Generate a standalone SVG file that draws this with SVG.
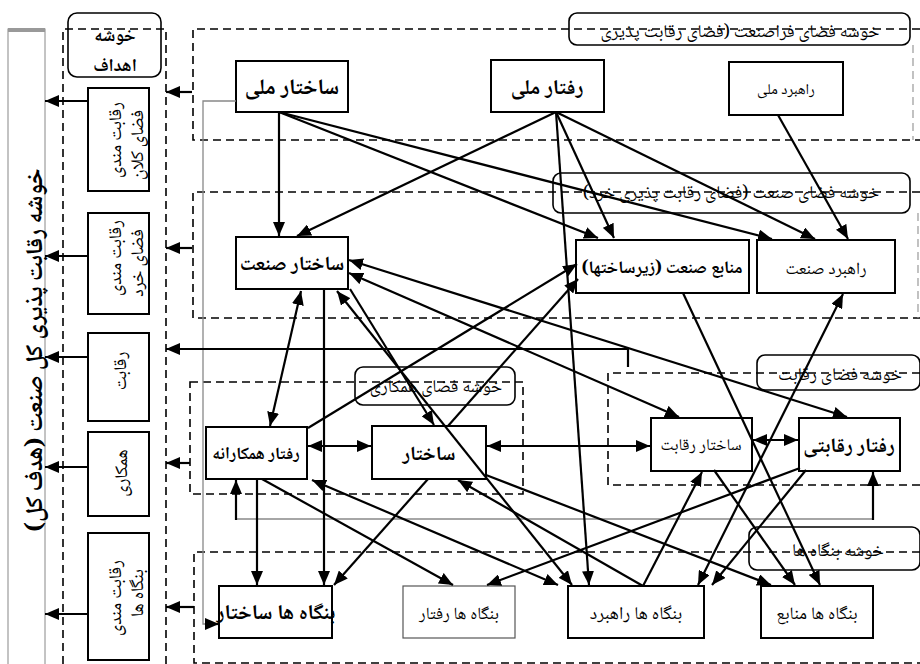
<svg xmlns="http://www.w3.org/2000/svg" width="920" height="664" viewBox="0 0 920 664">
<style>
text{font-family:"Noto Naskh Arabic","Noto Sans Arabic","DejaVu Sans",sans-serif;fill:#000}
.b{font-weight:bold}
.node{fill:#fff;stroke:#000;stroke-width:2}
.thin{fill:#fff;stroke:#555;stroke-width:1.2}
.dash{fill:none;stroke:#000;stroke-width:1.6;stroke-dasharray:8 5}
.gdash{fill:none;stroke:#999;stroke-width:1.2;stroke-dasharray:8 5}
.lbl{fill:none;stroke:#000;stroke-width:1.6}
.c{fill:none;stroke:#000;stroke-width:2.2;marker-end:url(#ah)}
.d{fill:none;stroke:#000;stroke-width:2.2;marker-end:url(#ah);marker-start:url(#ah)}
.g{fill:none;stroke:#888;stroke-width:1.3}
.gl{font-size:18px}
.cl{font-size:18px}
</style>
<defs>
<marker id="ah" viewBox="0 0 14 12" refX="14" refY="6" markerWidth="14" markerHeight="12" markerUnits="userSpaceOnUse" orient="auto-start-reverse">
<path d="M0,0 L14,6 L0,12 z" fill="#000"/>
</marker>
</defs>
<rect width="920" height="664" fill="#fff"/>

<!-- overall goal -->
<g id="overall">
<rect x="8" y="29" width="37" height="640" fill="#fff" stroke="#888" stroke-width="1"/>
<rect x="8" y="28" width="37" height="4" fill="#999"/>
<text class="b" font-size="24" text-anchor="middle" transform="translate(42,350) rotate(-90)">خوشه رقابت پذیری کل صنعت (هدف کل)</text>
</g>

<!-- clusters -->
<g id="cluster-goals">
<path class="dash" d="M63,664 V29 H166 V664"/>
<rect class="lbl" x="68" y="13" width="93" height="64" rx="9"/>
<text class="b" font-size="18" text-anchor="middle" x="115" y="41">خوشه</text>
<text class="b" font-size="18" text-anchor="middle" x="115" y="71">اهداف</text>
</g>
<g id="cluster-macro">
<path class="dash" d="M920,29 H193 V140 H920"/>
<path class="gdash" d="M913,45 V140"/>
<rect class="lbl" x="569" y="13" width="341" height="32" rx="8"/>
<text class="cl" text-anchor="middle" x="740" y="37">خوشه فضای فراصنعت (فضای رقابت پذیری</text>
</g>
<g id="cluster-industry">
<path class="dash" d="M920,192 H193 V318 H920"/>
<path class="gdash" d="M918,213 V318"/>
<rect class="lbl" x="553" y="173" width="357" height="40" rx="8"/>
<text class="cl" text-anchor="middle" x="731" y="198">خوشه فضای صنعت (فضای رقابت پذیری خرد)</text>
</g>
<g id="cluster-coop">
<rect class="dash" x="190" y="382" width="333" height="112"/>
<rect class="lbl" x="355" y="367" width="160" height="38" rx="8"/>
<text class="cl" text-anchor="middle" x="436" y="392">خوشه فضای همکاری</text>
</g>
<g id="cluster-comp">
<path class="dash" d="M920,373 H608 V485 H920"/>
<rect class="lbl" x="757" y="355" width="163" height="35" rx="8"/>
<text class="cl" text-anchor="middle" x="840" y="380">خوشه فضای رقابت</text>
</g>
<g id="cluster-firms">
<path class="dash" d="M920,552 H194 V663 H920"/>
<rect class="lbl" x="749" y="527" width="171" height="43" rx="8"/>
<text class="cl" text-anchor="middle" x="838" y="556">خوشه بنگاه ها</text>
</g>

<!-- goal boxes -->
<g id="goal-macro">
<rect class="node" x="88" y="88" width="61" height="103"/>
<text class="gl" text-anchor="middle" transform="translate(121,140) rotate(-90)">رقابت مندی</text>
<text class="gl" text-anchor="middle" transform="translate(143,145) rotate(-90)">فضای کلان</text>
</g>
<g id="goal-micro">
<rect class="node" x="88" y="213" width="61" height="101"/>
<text class="gl" text-anchor="middle" transform="translate(121,258) rotate(-90)">رقابت مندی</text>
<text class="gl" text-anchor="middle" transform="translate(143,263) rotate(-90)">فضای خرد</text>
</g>
<g id="goal-comp">
<rect class="node" x="88" y="333" width="61" height="88"/>
<text class="gl" text-anchor="middle" transform="translate(126,371) rotate(-90)">رقابت</text>
</g>
<g id="goal-coop">
<rect class="node" x="88" y="432" width="61" height="84"/>
<text class="gl" text-anchor="middle" transform="translate(127,473) rotate(-90)">همکاری</text>
</g>
<g id="goal-firms">
<rect class="node" x="88" y="533" width="61" height="127"/>
<text class="gl" text-anchor="middle" transform="translate(121,598) rotate(-90)">رقابت مندی</text>
<text class="gl" text-anchor="middle" transform="translate(143,593) rotate(-90)">بنگاه ها</text>
</g>

<!-- nodes -->
<g id="national-structure">
<rect class="node" x="236" y="61" width="112" height="51"/>
<text class="b" font-size="22" text-anchor="middle" x="292" y="94">ساختار ملی</text>
</g>
<g id="national-behavior">
<rect class="node" x="491" y="60" width="113" height="52"/>
<text class="b" font-size="21" text-anchor="middle" x="547" y="94">رفتار ملی</text>
</g>
<g id="national-strategy">
<rect class="node" x="729" y="62" width="114" height="53"/>
<text font-size="15" text-anchor="middle" x="786" y="94">راهبرد ملی</text>
</g>
<g id="industry-structure">
<rect class="node" x="236" y="237" width="112" height="52"/>
<text class="b" font-size="20" text-anchor="middle" x="292" y="270">ساختار صنعت</text>
</g>
<g id="industry-resources">
<rect class="node" x="576" y="240" width="173" height="53"/>
<text class="b" font-size="17.5" text-anchor="middle" x="662" y="273">منابع صنعت (زیرساختها)</text>
</g>
<g id="industry-strategy">
<rect class="node" x="757" y="240" width="138" height="53"/>
<text font-size="17" text-anchor="middle" x="826" y="274">راهبرد  صنعت</text>
</g>
<g id="coop-behavior">
<rect class="node" x="206" y="427" width="101" height="52"/>
<text class="b" font-size="17" text-anchor="middle" x="256" y="459">رفتار  همکارانه</text>
</g>
<g id="coop-structure">
<rect class="node" x="372" y="426" width="114" height="53"/>
<text class="b" font-size="20" text-anchor="middle" x="429" y="460">ساختار</text>
</g>
<g id="comp-structure">
<rect class="node" x="651" y="418" width="101" height="53"/>
<text font-size="16.5" text-anchor="middle" x="701" y="450">ساختار  رقابت</text>
</g>
<g id="comp-behavior">
<rect class="node" x="799" y="418" width="101" height="53"/>
<text class="b" font-size="20.5" text-anchor="middle" x="849" y="452">رفتار رقابتی</text>
</g>
<g id="firm-structure">
<rect class="node" x="219" y="586" width="113" height="52"/>
<text class="b" font-size="21" text-anchor="middle" x="276" y="619">بنگاه ها ساختار</text>
</g>
<g id="firm-behavior">
<rect class="thin" x="403" y="586" width="112" height="52"/>
<text font-size="17" text-anchor="middle" x="459" y="619">بنگاه ها رفتار</text>
</g>
<g id="firm-strategy">
<rect class="node" x="568" y="586" width="136" height="52"/>
<text font-size="18" text-anchor="middle" x="636" y="619">بنگاه ها راهبرد</text>
</g>
<g id="firm-resources">
<rect class="node" x="761" y="586" width="112" height="52"/>
<text font-size="17.5" text-anchor="middle" x="817" y="619">بنگاه ها منابع</text>
</g>

<!-- connectors -->
<g id="connectors">
<!-- gray routed lines -->
<path class="g" d="M236,101 H203 V624 H212"/>
<path class="c" d="M210,624 H219"/>
<path class="g" d="M236,519 H873"/>
<path class="c" d="M236,520 V480"/>
<path class="c" d="M873,520 V472"/>

<!-- to goals -->
<path class="c" d="M192,92 H166"/>
<path class="c" d="M192,248 H166"/>
<path class="c" d="M628,367 V349 H166"/>
<path class="c" d="M190,463 H166"/>
<path class="c" d="M194,607 H166"/>
<path class="c" d="M88,101 H45"/>
<path class="c" d="M88,256 H45"/>
<path class="c" d="M88,357 H45"/>
<path class="c" d="M88,467 H45"/>
<path class="c" d="M88,614 H45"/>

<!-- national level -->
<path class="c" d="M279,112 L279,236"/>
<path class="c" d="M279,112 L598,238"/>
<path class="c" d="M279,112 L772,239"/>
<path class="c" d="M556,112 L297,236"/>
<path class="c" d="M556,112 L614,238"/>
<path class="c" d="M556,112 L815,239"/>
<path class="c" d="M556,112 L589,585"/>
<path class="c" d="M778,115 L848,239"/>

<!-- industry level -->
<path class="d" d="M301,291 L270,426"/>
<path class="c" d="M324,289 V585"/>
<path class="c" d="M350,289 L434,425"/>
<path class="d" d="M337,291 L572,585"/>
<path class="d" d="M349,260 L847,417"/>
<path class="d" d="M349,273 L679,417"/>
<path class="c" d="M308,428 L577,264"/>
<path class="c" d="M448,426 L578,279"/>
<path class="c" d="M683,293 L820,585"/>
<path class="d" d="M843,294 L698,585"/>

<!-- cooperation / competition level -->
<path class="d" d="M308,446 H371"/>
<path class="d" d="M487,446 H650"/>
<path class="d" d="M753,440 H798"/>
<path class="c" d="M257,479 V585"/>
<path class="c" d="M262,479 L453,585"/>
<path class="d" d="M312,480 L558,585"/>
<path class="c" d="M428,479 L334,585"/>
<path class="c" d="M486,475 L771,585"/>
<path class="c" d="M643,586 L458,480"/>
<path class="c" d="M643,586 L702,472"/>
<path class="c" d="M714,470 L795,585"/>
<path class="c" d="M806,470 L712,585"/>
<path class="c" d="M800,468 L487,585"/>
</g>
</svg>
